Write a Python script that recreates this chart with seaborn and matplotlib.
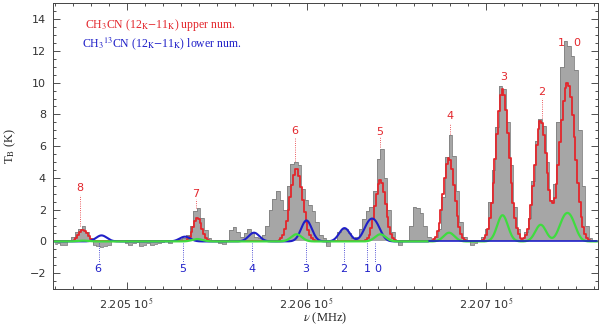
import numpy as np
import pandas as pd
import seaborn as sns
import matplotlib.pyplot as plt
from matplotlib.ticker import MultipleLocator

# Observed spectrum (K), 2 MHz channels starting at 220460 MHz
chan_start = 220460.0
chan_width = 2.0
tb_obs = [
    -0.15, -0.10, -0.20, -0.25, 0.05, 0.30, 0.60, 0.80, 1.00, 0.60,    # 220460
    0.20, -0.20, -0.30, -0.35, -0.30, -0.20, 0.05, 0.10, 0.00, 0.05,   # 220480
    -0.10, -0.20, -0.10, -0.05, -0.30, -0.20, -0.10, -0.25, -0.15, -0.10,  # 220500
    -0.05, 0.00, -0.10, 0.05, 0.10, 0.15, 0.20, 0.40, 1.00, 1.90,     # 220520
    2.10, 1.50, 0.70, 0.20, 0.05, 0.10, -0.10, -0.15, 0.10, 0.70,     # 220540
    0.90, 0.60, 0.30, 0.50, 0.80, 0.60, 0.30, 0.20, 0.40, 1.00,       # 220560
    2.00, 2.70, 3.20, 2.60, 2.00, 3.50, 4.90, 5.00, 4.80, 3.30,       # 220580
    2.60, 2.30, 1.90, 1.20, 0.40, 0.20, -0.30, 0.00, 0.10, 0.60,      # 220600
    0.80, 0.80, 0.50, 0.20, 0.30, 0.80, 1.40, 1.90, 2.20, 3.20,       # 220620
    5.20, 5.80, 4.00, 2.00, 0.60, 0.00, -0.20, 0.00, 0.00, 1.00,      # 220640
    2.20, 2.10, 1.80, 1.00, 0.30, 0.10, 0.30, 0.80, 2.80, 5.30,       # 220660
    6.70, 5.40, 3.20, 1.20, 0.30, 0.00, -0.20, -0.10, 0.00, 0.30,     # 220680
    0.80, 2.50, 4.50, 7.20, 9.80, 9.60, 7.50, 4.80, 2.20, 0.80,       # 220700
    0.20, 0.60, 1.50, 3.80, 6.30, 7.70, 7.30, 5.00, 2.60, 3.60,       # 220720
    7.50, 11.00, 12.60, 12.30, 11.70, 10.80, 7.00, 3.50, 1.00, 0.20,  # 220740
    0.00,                                                             # 220760
]

# CH3CN (12_K-11_K) components: rest frequency, fitted peak (red), second fit (green)
nu_main = [220475.81, 220539.32, 220594.42, 220641.08, 220679.29,
           220709.02, 220730.26, 220743.01, 220747.26]
peak_red = [0.75, 1.5, 4.6, 3.9, 5.3, 9.6, 7.6, 6.07, 6.07]
fwhm_red = [5.8, 5.6, 8.0, 6.8, 7.2, 8.5, 8.0, 8.0, 8.0]
peak_green = [0.05, 0.15, 0.45, 0.45, 0.55, 1.65, 1.05, 1.16, 1.16]
fwhm_green = 7.0

# CH3^13CN (12_K-11_K) components
nu_iso = [220486.0, 220532.4, 220570.8, 220599.98, 220621.13, 220634.37, 220638.61]
peak_blue = [0.38, 0.30, 0.55, 1.32, 0.84, 0.93, 0.93]
fwhm_blue = 7.0

# annotations: upper (red) labels
red_lbl = ['8', '7', '6', '5', '4', '3', '2', '1', '0']
red_lbl_nu = [220474.1, 220538.3, 220593.6, 220640.9, 220679.8,
              220709.4, 220730.9, 220741.8, 220750.2]
red_lbl_tb = [3.39, 3.01, 6.94, 6.90, 7.89, 10.37, 9.42, 12.47, 12.47]
red_dot_top = [2.95, 2.65, 6.55, 6.55, 7.45, np.nan, 9.05, np.nan, np.nan]
red_dot_bot = [0.95, 2.10, 5.05, 5.95, 6.75, np.nan, 7.75, np.nan, np.nan]

# lower (blue) labels
blue_lbl = ['6', '5', '4', '3', '2', '1', '0']
blue_lbl_nu = [220484.0, 220531.3, 220569.6, 220599.6, 220620.7, 220633.7, 220639.6]
blue_lbl_tb = -1.72
blue_dot_nu = [220484.6, 220531.3, 220569.6, 220599.6, 220620.7, 220633.7, 220638.3]


def gauss_sum(nu, centers, peaks, fwhm):
    fw = np.broadcast_to(np.asarray(fwhm, dtype=float), (len(centers),))
    out = np.zeros_like(nu)
    for c, p, w in zip(centers, peaks, fw):
        s = w / 2.3548
        out += p * np.exp(-0.5 * ((nu - c) / s) ** 2)
    return out


nu_obs = chan_start + chan_width * np.arange(len(tb_obs))
df_obs = pd.DataFrame({'nu': nu_obs, 'tb': tb_obs})

nu_mod = np.arange(220459.0, 220762.0, 1.0)
nu_fine = np.arange(220459.0, 220762.0, 0.25)
df_red = pd.DataFrame({'nu': nu_mod, 'tb': gauss_sum(nu_mod, nu_main, peak_red, fwhm_red)})
df_blue = pd.DataFrame({'nu': nu_fine, 'tb': gauss_sum(nu_fine, nu_iso, peak_blue, fwhm_blue)})
df_green = pd.DataFrame({'nu': nu_fine, 'tb': gauss_sum(nu_fine, nu_main, peak_green, fwhm_green)})

sns.set_style('ticks')
plt.rcParams['font.family'] = ['DejaVu Sans']
plt.rcParams['mathtext.fontset'] = 'stix'

RED = '#e3262c'
BLUE = '#1f1fc8'
GREEN = '#3fdc3f'
SERIF = ['Liberation Serif', 'DejaVu Serif']

fig = plt.figure(figsize=(6.0, 3.27), dpi=100)
ax = fig.add_axes([0.0883, 0.116, 0.908, 0.874])

# observed spectrum: filled histogram
ax.fill_between(df_obs.nu, df_obs.tb, 0, step='mid', color='#a6a6a6', lw=0)
sns.lineplot(data=df_obs, x='nu', y='tb', estimator=None, sort=False,
             drawstyle='steps-mid', color='#808080', lw=0.6, ax=ax)

# fits
sns.lineplot(data=df_red, x='nu', y='tb', estimator=None, sort=False,
             drawstyle='steps-mid', color=RED, lw=1.3, ax=ax)
left = df_blue[df_blue.nu < 220668]
right = df_blue[df_blue.nu >= 220668]
sns.lineplot(data=left, x='nu', y='tb', estimator=None, sort=False,
             color=BLUE, lw=1.5, ax=ax)
sns.lineplot(data=df_green, x='nu', y='tb', estimator=None, sort=False,
             color=GREEN, lw=1.6, ax=ax)
sns.lineplot(data=right, x='nu', y='tb', estimator=None, sort=False,
             color=BLUE, lw=1.2, ax=ax)

# line identifications
for lbl, x, y, t, b in zip(red_lbl, red_lbl_nu, red_lbl_tb, red_dot_top, red_dot_bot):
    ax.text(x, y, lbl, color=RED, fontsize=8, ha='center', va='center')
    if not np.isnan(t):
        ax.plot([x, x], [b, t], ls=':', color=RED, lw=0.6)
for lbl, x, xd in zip(blue_lbl, blue_lbl_nu, blue_dot_nu):
    ax.text(x, blue_lbl_tb, lbl, color=BLUE, fontsize=8, ha='center', va='center')
    ax.plot([xd, xd], [-0.12, -1.35], ls=':', color=BLUE, lw=0.6)

ax.text(220477, 13.6, r'CH$_3$CN (12$_{\rm K}$$-$11$_{\rm K}$) upper num.',
        color=RED, fontsize=8.5, family=SERIF, ha='left', va='center')
ax.text(220475, 12.45, r'CH$_3$$^{13}$CN (12$_{\rm K}$$-$11$_{\rm K}$) lower num.',
        color=BLUE, fontsize=8.5, family=SERIF, ha='left', va='center')

# axes
ax.set_xlim(220459, 220762)
ax.set_ylim(-3, 15)
ax.set_xticks([220500, 220600, 220700])
ax.set_xticklabels([r'2.205 10$^5$', r'2.206 10$^5$', r'2.207 10$^5$'])
ax.xaxis.set_minor_locator(MultipleLocator(10))
ax.yaxis.set_major_locator(MultipleLocator(2))
ax.yaxis.set_minor_locator(MultipleLocator(0.5))
ax.tick_params(which='both', direction='in', top=True, right=True,
               labelsize=8, colors='#333333', width=0.6)
ax.tick_params(which='major', length=5, pad=5)
ax.tick_params(which='minor', length=2.5)
for s in ax.spines.values():
    s.set_linewidth(0.7)
    s.set_color('#444444')

ax.set_xlabel(r'$\nu$ (MHz)', fontsize=9, family=SERIF)
ax.xaxis.set_label_coords(0.5, -0.075)
ax.set_ylabel(r'T$_{\rm B}$ (K)', fontsize=9, family=SERIF, labelpad=8)

fig.savefig('out.png', dpi=100)
